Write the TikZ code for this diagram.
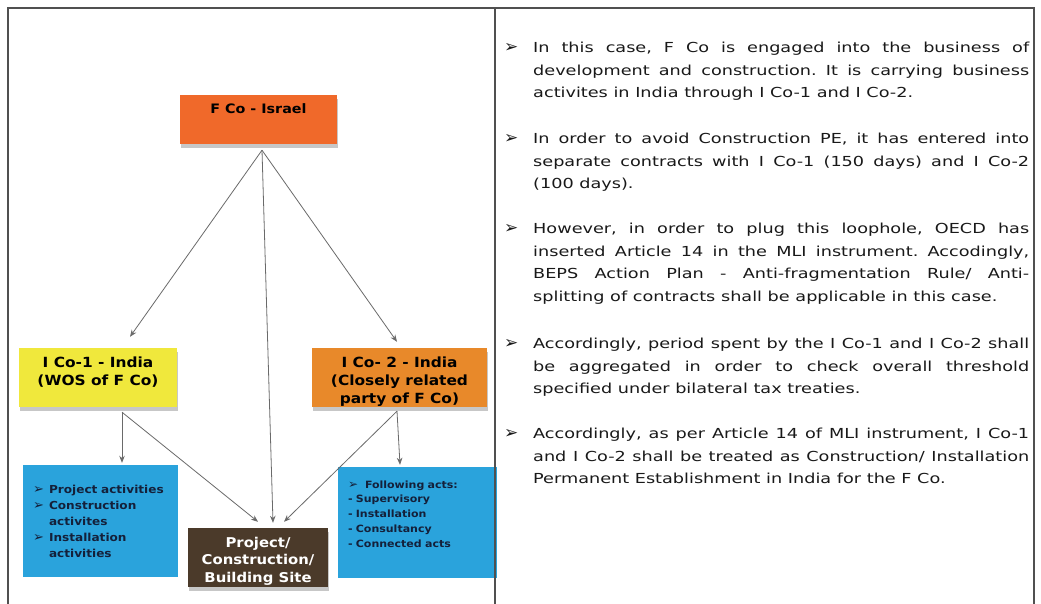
\documentclass[tikz,border=0pt]{standalone}
\usepackage{fontspec}
\setmainfont{DejaVu Sans}
\newfontfamily\bodyfont[FakeStretch=1.28]{DejaVu Sans}
\newfontfamily\boxfont[FakeStretch=1.1]{DejaVu Sans}
\newfontfamily\symfont{DejaVu Sans}
\usetikzlibrary{positioning, arrows.meta, shadows}

\definecolor{fcoorange}{HTML}{F0692A}
\definecolor{icoyellow}{HTML}{F0E83C}
\definecolor{icoorange}{HTML}{E8892A}
\definecolor{actblue}{HTML}{2AA3DC}
\definecolor{sitebrown}{HTML}{4B3A2A}
\definecolor{framegray}{HTML}{505050}
\definecolor{arrgray}{HTML}{6A6A6A}
\definecolor{navytext}{HTML}{14203A}

\tolerance=10000
\hbadness=10000
\hyphenpenalty=10000
\frenchspacing

\newcommand{\blt}[1]{{\symfont\fontsize{#1}{#1}\selectfont ➢}}

\tikzset{
  entity/.style={rectangle, inner sep=0pt, align=center, text=black,
    font=\boxfont\bfseries\fontsize{14}{18}\selectfont,
    drop shadow={shadow xshift=0.5pt, shadow yshift=-4pt, fill=black, opacity=0.22}},
  actbox/.style={rectangle, fill=actblue, inner xsep=10pt, inner ysep=0pt, align=left, text=navytext},
  arr/.style={draw=arrgray, line width=0.8pt, -{Stealth[length=7pt, width=5.5pt]}},
  para/.style={anchor=north west, inner sep=0pt, text width=496pt, align=justify, text=black!90,
    font=\bodyfont\fontsize{13.8}{22.7}\selectfont},
  bullet/.style={anchor=base west, inner sep=0pt, text=black!90}
}

\begin{document}
\begin{tikzpicture}[x=1pt, y=-1pt]
\useasboundingbox (0,0) rectangle (1041,604);
\fill[white] (0,0) rectangle (1041,604);

% left: structure
\node[entity, fill=fcoorange, minimum width=157pt, text height=19pt, text depth=30pt,
  font=\boxfont\bfseries\fontsize{13}{16}\selectfont] (fco) at (258.5,119.5) {F Co - Israel};
\node[entity, fill=icoyellow, minimum width=158pt, text height=37pt, text depth=22pt] (ico1) at (98,377.5) {I Co-1 - India\\(WOS of F Co)};
\node[entity, fill=icoorange, minimum width=175pt, text height=55pt, text depth=4pt] (ico2) at (399.5,377.5) {I Co- 2 - India\\(Closely related\\party of F Co)};
\node[entity, fill=sitebrown, text=white, minimum width=140pt, text height=54pt, text depth=5pt,
  font=\boxfont\bfseries\fontsize{13.5}{17.5}\selectfont] (site) at (258,557.5) {Project/\\Construction/\\Building Site};

\node[actbox, text width=135pt, text height=28pt, text depth=84pt,
  font=\boxfont\bfseries\fontsize{11}{16}\selectfont] (act1) at (100.5,521) {%
  \makebox[16pt][l]{\blt{13}}Project activities\\
  \makebox[16pt][l]{\blt{13}}Construction\\
  \hspace*{16pt}activites\\
  \makebox[16pt][l]{\blt{13}}Installation\\
  \hspace*{16pt}activities};
\node[actbox, text width=139pt, text height=21pt, text depth=90pt,
  font=\boxfont\bfseries\fontsize{10}{14.8}\selectfont] (act2) at (417.5,522.5) {%
  \makebox[17pt][l]{\blt{12}}Following acts:\\
  - Supervisory\\
  - Installation\\
  - Consultancy\\
  - Connected acts};

\coordinate (fcoOut) at ([shift={(3.5,6)}]fco.south);
\coordinate (ico1Out) at ([shift={(24,5)}]ico1.south);
\coordinate (ico2Out) at ([shift={(-2.5,4)}]ico2.south);

\draw[arr] (fcoOut) -- ([shift={(32,-11)}]ico1.north);
\draw[arr] (fcoOut) -- ([shift={(15,-5)}]site.north);
\draw[arr] (fcoOut) -- ([shift={(-2.5,-6)}]ico2.north);
\draw[arr] (ico1Out) -- ([shift={(21.5,-2)}]act1.north);
\draw[arr] (ico1Out) -- ([shift={(0,-6)}]site.north);
\draw[arr] (ico2Out) -- ([shift={(-17.5,-2)}]act2.north);
\draw[arr] (ico2Out) -- ([shift={(26,-6)}]site.north);

% right: notes
\node[para] (p1) at (533,36.4) {\strut In this case, F Co is engaged into the business of\linebreak development and construction. It is carrying business\linebreak activites in India through I Co-1 and I Co-2.};
\node[para] (p2) at (533,127.4) {\strut In order to avoid Construction PE, it has entered into\linebreak separate contracts with I Co-1 (150 days) and I Co-2\linebreak (100 days).};
\node[para] (p3) at (533,217.4) {\strut However, in order to plug this loophole, OECD has\linebreak inserted Article 14 in the MLI instrument. Accodingly,\linebreak BEPS Action Plan - Anti-fragmentation Rule/ Anti-\linebreak splitting of contracts shall be applicable in this case.};
\node[para] (p4) at (533,332.4) {\strut Accordingly, period spent by the I Co-1 and I Co-2 shall\linebreak be aggregated in order to check overall threshold\linebreak specified under bilateral tax treaties.};
\node[para] (p5) at (533,422.4) {\strut Accordingly, as per Article 14 of MLI instrument, I Co-1\linebreak and I Co-2 shall be treated as Construction/ Installation\linebreak Permanent Establishment in India for the F Co.};

\foreach \y in {52.3,143.3,233.3,348.3,438.3}
  \node[bullet] at (504,\y) {\blt{17}};

% frame
\draw[framegray, line width=1.5pt] (8,604) -- (8,8) -- (1034,8) -- (1034,604);
\draw[framegray, line width=1.5pt] (495,8) -- (495,604);
\end{tikzpicture}
\end{document}
